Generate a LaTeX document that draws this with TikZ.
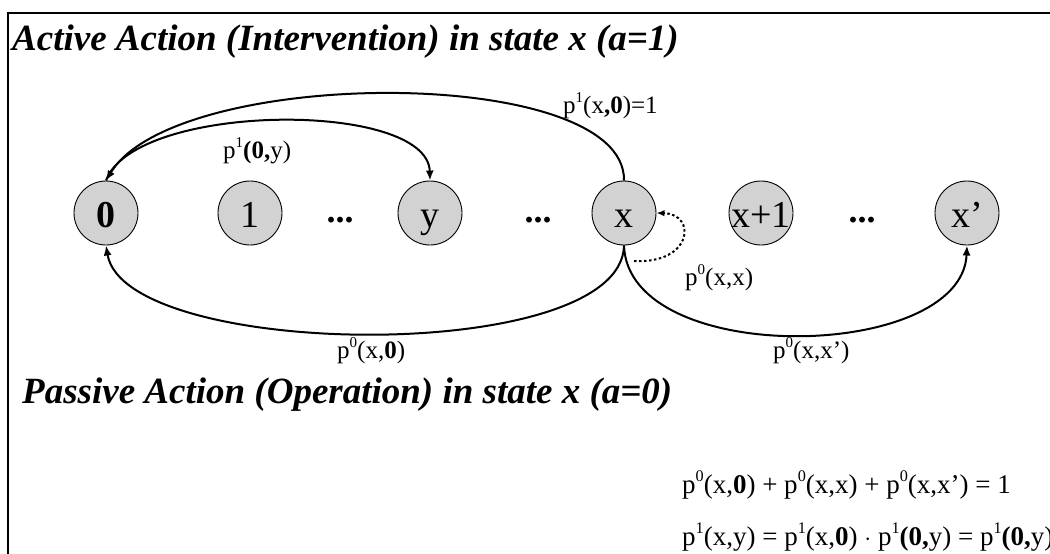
\documentclass[tikz,border=0pt]{standalone}
\usepackage{fontspec}
\setmainfont{Liberation Serif}
\usetikzlibrary{arrows.meta}
\definecolor{stategray}{RGB}{210,210,210}
\newcommand\supr[1]{\raisebox{0.42em}{\scalebox{0.6}{#1}}}
\begin{document}
\begin{tikzpicture}[x=1pt,y=-1pt,
  state/.style={circle,draw=black,line width=0.9pt,fill=stategray,minimum size=64pt,inner sep=0pt,
    font=\fontsize{38}{38}\selectfont,text height=29pt,text depth=0pt},
  dotsnode/.style={inner sep=0pt,anchor=base,font=\fontsize{36}{36}\selectfont\bfseries},
  title/.style={inner sep=0pt,anchor=base west,font=\fontsize{37}{37}\selectfont\bfseries\itshape},
  elabel/.style={inner sep=0pt,anchor=base west,font=\fontsize{25}{25}\selectfont},
  eqn/.style={inner sep=0pt,anchor=base west,font=\fontsize{27}{27}\selectfont},
  conn/.style={line width=2pt,-{Latex[length=10pt,width=8pt]}},
  dotconn/.style={line width=2pt,dash pattern=on 2.5pt off 2.5pt,-{Latex[length=8pt,width=6.5pt]}},
  frameline/.style={line width=1.6pt}
]
\useasboundingbox (0,0) rectangle (1050,554);
\clip (0,0) rectangle (1050,554);
% frame
\draw[frameline] (1050,13) -- (8,13) -- (8,554);
% titles
\node[title] (t1) at (12,50) {Active Action (Intervention) in state x (a=1)};
\node[title] (t2) at (22,403) {Passive Action (Operation) in state x (a=0)};
% states
\node[state] (n0) at (106,213) {\makebox[0pt]{\bfseries 0}};
\node[state] (n1) at (250,213) {\makebox[0pt]{1}};
\node[dotsnode] (d1) at (340,222) {...};
\node[state] (ny) at (430,213) {\makebox[0pt]{y}};
\node[dotsnode] (d2) at (538,222) {...};
\node[state] (nx) at (624,213) {\makebox[0pt]{x}};
\node[state] (nx1) at (761,213) {\makebox[0pt]{x+1}};
\node[dotsnode] (d3) at (862,222) {...};
\node[state] (nxp) at (967,213) {\makebox[0pt]{x’}};
% connectors
\draw[conn] (nx.north) .. controls (626,64) and (175,66) .. (n0.north);
\draw[conn] (n0.north) .. controls (135,102) and (428,100) .. (ny.north);
\draw[conn] (nx.south) .. controls (622,366) and (125,360) .. (n0.south);
\draw[conn] (nx.south) .. controls (628,368) and (962,362) .. (nxp.south);
\coordinate (dstart) at (634,261);
\draw[dotconn] (dstart) .. controls (693,264) and (697,214) .. (nx.east);
% edge labels
\node[elabel] (l1) at (563,113) {p\supr{1}(x\textbf{,0})=1};
\node[elabel] (l2) at (223,158) {p\supr{1}\textbf{(0,}y)};
\node[elabel] (l3) at (685,285) {p\supr{0}(x,x)};
\node[elabel] (l4) at (337,358) {p\supr{0}(x,\textbf{0})};
\node[elabel] (l5) at (773,358) {p\supr{0}(x,x’)};
% equations
\node[eqn] (e1) at (682,493) {p\supr{0}(x,\textbf{0}) + p\supr{0}(x,x) + p\supr{0}(x,x’) = 1};
\node[eqn] (e2) at (682,545) {p\supr{1}(x,y) = p\supr{1}(x,\textbf{0}) $\cdot$ p\supr{1}\textbf{(0,}y) = p\supr{1}\textbf{(0,}y)};
\end{tikzpicture}
\end{document}
